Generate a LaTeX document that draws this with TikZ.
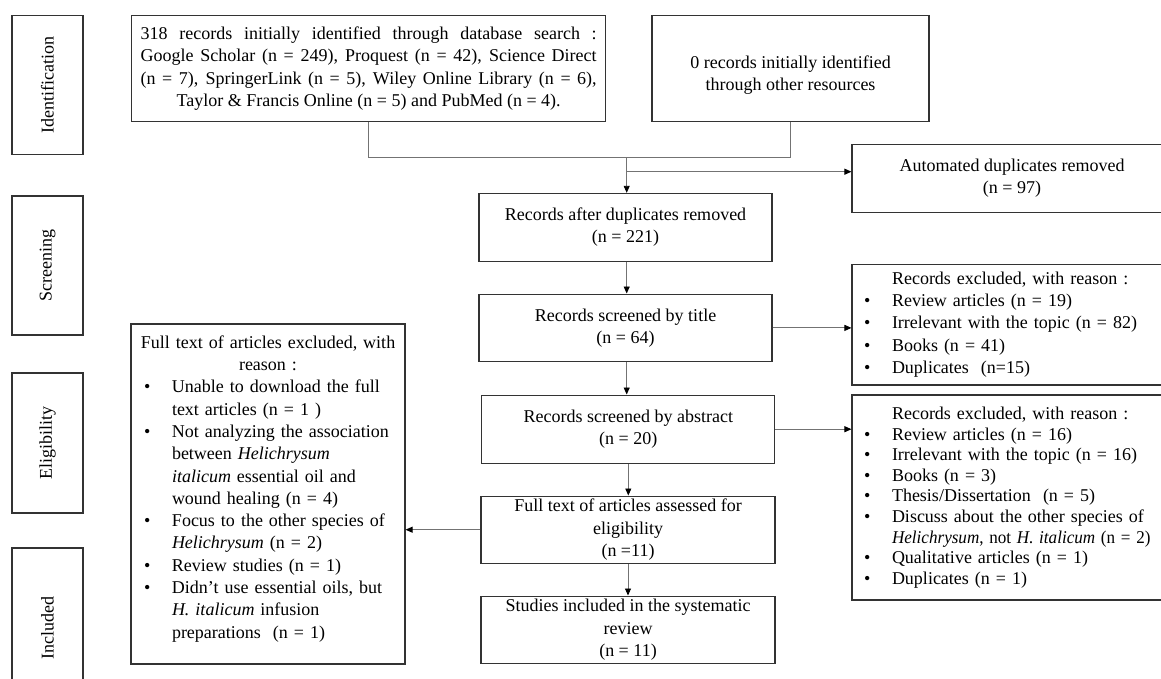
\documentclass[tikz,border=0pt]{standalone}
\usepackage{fontspec}
\setmainfont{Liberation Serif}
\usetikzlibrary{arrows.meta,calc}
\newcommand\dfont{\fontsize{18}{22.3}\selectfont}
\newcommand\dfonttight{\fontsize{18}{20.6}\selectfont}
\newcommand\bul{\makebox[28pt][l]{\textbullet}}
\newcommand\ind{\hspace*{28pt}}
\newcommand\jline[1]{\makebox[456pt][s]{#1}}
\begin{document}
\begin{tikzpicture}[x=1pt,y=-1pt,
  every node/.style={font=\dfont},
  box/.style={draw=black!80, line width=1.1pt, inner sep=0pt, align=center},
  phase/.style={box, rotate=90},
  listbox/.style={draw=black!80, line width=1.1pt, inner ysep=0pt, align=left},
  conn/.style={draw=black!55, line width=0.9pt},
  arr/.style={conn, -{Triangle[length=7pt,width=6pt,color=black]}}]
\clip (0,0) rectangle (1161,678);
\fill[white] (0,0) rectangle (1161,678);

% phase labels
\node[phase, minimum width=139pt, minimum height=71pt] (ident) at (47.5,84.8) {Identification};
\node[phase, minimum width=139pt, minimum height=71pt] (screen) at (47.5,265.5) {Screening};
\node[phase, minimum width=140pt, minimum height=71pt] (elig) at (47.5,443) {Eligibility};
\node[phase, minimum width=160pt, minimum height=71pt] (incl) at (47.5,628) {Included};

% identification
\node[box, minimum width=474pt, minimum height=106pt] (db) at (368.7,68.7)
  {\jline{318 records initially identified through database search :}\\
   \jline{Google Scholar (n = 249), Proquest (n = 42), Science Direct}\\
   \jline{(n = 7), SpringerLink (n = 5), Wiley Online Library (n = 6),}\\
   Taylor \& Francis Online (n = 5) and PubMed (n = 4).};
\node[box, minimum width=277pt, minimum height=106pt] (other) at (790.5,68.7)
  {\rule{0pt}{26pt}0 records initially identified\\through other resources};
\node[box, minimum width=320pt, minimum height=68.7pt] (auto) at (1012,178.4)
  {Automated duplicates removed\\(n = 97)};

% main column
\node[box, minimum width=293pt, minimum height=67.7pt] (dup) at (625.5,227.2)
  {Records after duplicates removed\\(n = 221)};
\node[box, minimum width=293pt, minimum height=67.7pt] (title) at (625.5,327.9)
  {Records screened by title\\(n = 64)};
\node[box, minimum width=293pt, minimum height=68.3pt] (abs) at (628.3,429.2)
  {Records screened by abstract\\(n = 20)};
\node[box, minimum width=294pt, minimum height=67.3pt] (full) at (628,529.7)
  {Full text of articles assessed for\\eligibility\\(n =11)};
\node[box, minimum width=294pt, minimum height=67.3pt] (stud) at (628,629.7)
  {Studies included in the systematic\\review\\(n = 11)};

% right exclusion boxes
\node[listbox, inner xsep=12pt, text width=330pt, minimum height=120.7pt] (r1) at (1029,324.65)
  {\ind Records excluded, with reason :\\
   \bul Review articles (n = 19)\\
   \bul Irrelevant with the topic (n = 82)\\
   \bul Books (n = 41)\\
   \bul Duplicates\ \ (n=15)};
\node[listbox, inner xsep=12pt, text width=330pt, minimum height=205pt, font=\dfonttight] (r2) at (1029,497.5)
  {\ind Records excluded, with reason :\\
   \bul Review articles (n = 16)\\
   \bul Irrelevant with the topic (n = 16)\\
   \bul Books (n = 3)\\
   \bul Thesis/Dissertation\ \ (n = 5)\\
   \bul Discuss about the other species of\\
   \ind \scalebox{0.95}[1]{\textit{Helichrysum}, not \textit{H. italicum} (n = 2)}\\
   \bul Qualitative articles (n = 1)\\
   \bul Duplicates (n = 1)};

% left exclusion box
\node[listbox, inner xsep=13pt, text width=248pt, minimum height=340pt] (excl) at (268,494)
  {\makebox[\linewidth][c]{Full text of articles excluded, with}\\
   \makebox[\linewidth][c]{reason :}\\
   \bul Unable to download the full\\
   \ind text articles (n = 1 )\\
   \bul Not analyzing the association\\
   \ind between \textit{Helichrysum}\\
   \ind \textit{italicum} essential oil and\\
   \ind wound healing (n = 4)\\
   \bul Focus to the other species of\\
   \ind \textit{Helichrysum} (n = 2)\\
   \bul Review studies (n = 1)\\
   \bul Didn’t use essential oils, but\\
   \ind \textit{H. italicum} infusion\\
   \ind preparations\ \ (n = 1)\\[-8pt]\mbox{}};

% connectors
\coordinate (j) at (626.7,157.7);
\coordinate (k) at (626.7,171.7);
\draw[conn] (db.south) |- (j);
\draw[conn] (other.south) |- (j);
\draw[arr] (j) -- (j |- dup.north);
\draw[arr] (k) -- (k -| auto.west);
\draw[arr] (j |- dup.south) -- (j |- title.north);
\draw[arr] (j |- title.south) -- (j |- abs.north);
\draw[arr] (abs.south) -- (abs.south |- full.north);
\draw[arr] (full.south) -- (full.south |- stud.north);
\draw[arr] (title.east) -- (title.east -| r1.west);
\draw[arr] (abs.east) -- (abs.east -| r2.west);
\draw[arr] (full.west) -- (full.west -| excl.east);
\end{tikzpicture}
\end{document}
